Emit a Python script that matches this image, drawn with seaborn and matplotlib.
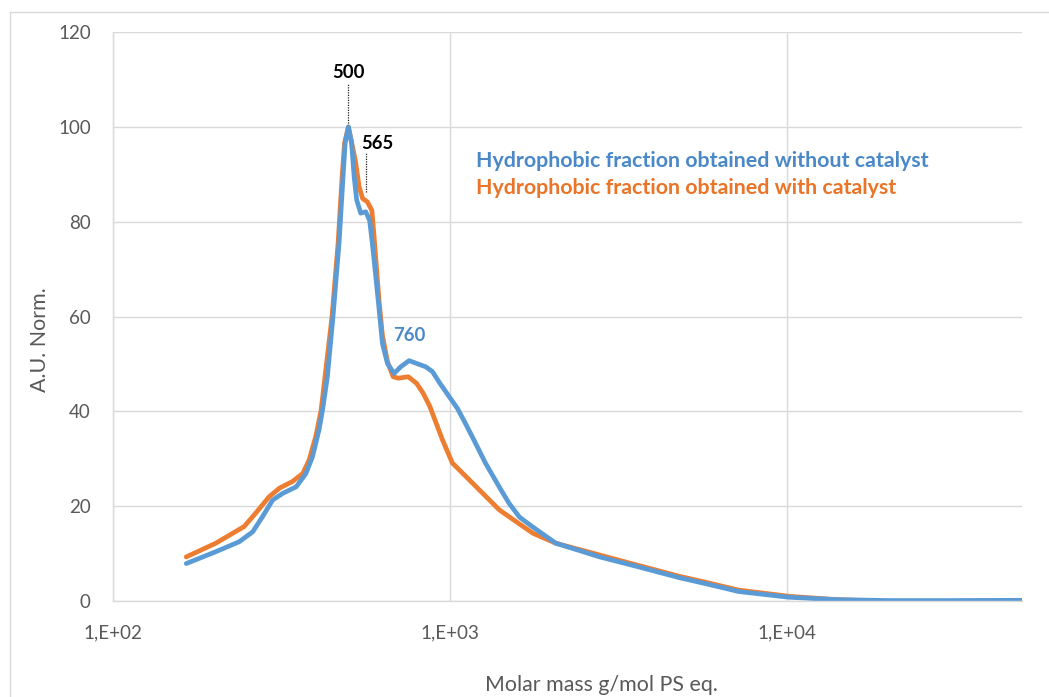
import matplotlib
matplotlib.use("Agg")
import matplotlib.pyplot as plt
from matplotlib.patches import Rectangle
import seaborn as sns
import pandas as pd

# Molar mass (g/mol PS eq.) and normalised detector response for each fraction
mass_without = [165, 202, 237, 260, 278, 298, 319, 350, 374, 391, 409, 419, 433,
                450, 469, 482, 489, 500, 511, 520, 529, 544, 563, 578, 589, 603,
                617, 631, 653, 683, 715, 757, 848, 888, 929, 996, 1054, 1110,
                1167, 1276, 1404, 1500, 1610, 1764, 2063, 2788, 3590, 4818, 5639,
                7210, 10160, 14000, 20000, 30000, 50000]
signal_without = [7.9, 10.4, 12.5, 14.6, 17.8, 21.3, 22.7, 24.1, 26.9, 30.4, 36.1,
                  40.3, 47.3, 60.0, 75.5, 89.5, 96.6, 100.0, 96.6, 89.5, 84.6,
                  81.8, 82.1, 80.3, 75.4, 68.4, 61.4, 54.3, 50.1, 48.0, 49.4,
                  50.7, 49.4, 48.4, 46.2, 43.1, 40.6, 37.6, 34.6, 29.1, 24.0,
                  20.6, 17.7, 15.6, 12.2, 9.3, 7.3, 4.9, 3.8, 2.0, 0.8, 0.3, 0.1,
                  0.1, 0.15]

mass_with = [165, 202, 245, 265, 291, 312, 341, 366, 382, 400, 415, 447, 466, 479,
             487, 500, 524, 538, 551, 569, 587, 596, 617, 631, 653, 679, 703,
             753, 797, 834, 873, 888, 951, 1018, 1167, 1404, 1764, 2063, 2788,
             3590, 4818, 5639, 7210, 10160, 14000, 17000]
signal_with = [9.3, 12.2, 15.7, 18.5, 22.0, 23.8, 25.2, 26.9, 29.7, 34.7, 40.3,
               60.0, 75.5, 89.5, 96.6, 100.0, 93.0, 87.4, 84.9, 84.2, 82.4, 76.8,
               63.0, 56.0, 50.5, 47.3, 47.0, 47.3, 45.9, 43.8, 41.0, 39.6, 34.0,
               29.1, 24.9, 19.2, 14.3, 12.2, 9.7, 7.6, 5.2, 4.1, 2.3, 1.0, 0.3,
               0.1]

series_names = ["Hydrophobic fraction obtained without catalyst",
                "Hydrophobic fraction obtained with catalyst"]
series_colors = ["#5B9BD5", "#ED7D31"]
text_colors = ["#4A88C7", "#EA7428"]

y_ticks = [0, 20, 40, 60, 80, 100, 120]
x_ticks = [1e2, 1e3, 1e4]
x_tick_labels = ["1,E+02", "1,E+03", "1,E+04"]

peak_labels = [500, 565]
shoulder_label = 760

df = pd.concat([
    pd.DataFrame({"mass": mass_without, "signal": signal_without, "series": series_names[0]}),
    pd.DataFrame({"mass": mass_with, "signal": signal_with, "series": series_names[1]}),
])

sns.set_theme(style="white")
plt.rcParams["font.family"] = ["Lato", "DejaVu Sans"]

fig = plt.figure(figsize=(10.49, 6.97), dpi=100)
ax = fig.add_axes([0.1077, 0.1377, 0.8666, 0.8163])

# draw the catalyst series first so the blue trace sits on top
sns.lineplot(data=df, x="mass", y="signal", hue="series",
             hue_order=[series_names[1], series_names[0]],
             palette={series_names[0]: series_colors[0], series_names[1]: series_colors[1]},
             linewidth=3.4, legend=False, sort=False, ax=ax)
for line in ax.get_lines():
    line.set_solid_joinstyle("round")
    line.set_solid_capstyle("round")

ax.set_xscale("log")
ax.set_xlim(1e2, 5e4)
ax.set_ylim(0, 120)
ax.set_xticks(x_ticks)
ax.set_xticklabels(x_tick_labels)
ax.minorticks_off()
ax.set_yticks(y_ticks)

grid_color = "#d9d9d9"
ax.grid(True, which="major", color=grid_color, linewidth=1.0)
ax.set_axisbelow(True)
for side in ["top", "right"]:
    ax.spines[side].set_visible(False)
for side in ["left", "bottom"]:
    ax.spines[side].set_color(grid_color)
    ax.spines[side].set_linewidth(1.0)

label_grey = "#595959"
ax.tick_params(axis="both", length=0, labelsize=13.5, labelcolor=label_grey)
ax.tick_params(axis="y", pad=16)
ax.tick_params(axis="x", pad=17)
ax.set_xlabel("Molar mass g/mol PS eq.", fontsize=15.4, color=label_grey)
ax.xaxis.set_label_coords(0.537, -0.1476)
ax.xaxis.label.set_va("center")
ax.set_ylabel("A.U. Norm.", fontsize=15.4, color=label_grey)
ax.yaxis.set_label_coords(-0.0803, 0.4587)
ax.yaxis.label.set_va("center")

# series names written as coloured text
ax.text(0.3993, 0.7733, series_names[0], transform=ax.transAxes, color=text_colors[0],
        fontsize=15.4, fontweight="bold", va="center", ha="left")
ax.text(0.3993, 0.7259, series_names[1], transform=ax.transAxes, color=text_colors[1],
        fontsize=15.4, fontweight="bold", va="center", ha="left")

# peak annotations with dotted leaders
ax.plot([peak_labels[0], peak_labels[0]], [100.9, 109.2], linestyle=(0, (1, 1)),
        color="#222222", linewidth=0.9)
ax.text(peak_labels[0], 111.45, str(peak_labels[0]), ha="center", va="center",
        fontsize=13.3, fontweight="bold", color="black")
ax.plot([peak_labels[1], peak_labels[1]], [86.3, 94.8], linestyle=(0, (1, 1)),
        color="#222222", linewidth=0.9)
ax.annotate(str(peak_labels[1]), xy=(peak_labels[1], 96.5), xytext=(-3.6, 0),
            textcoords="offset points", ha="left", va="center",
            fontsize=13.3, fontweight="bold", color="black")
ax.text(shoulder_label, 56.1, str(shoulder_label), ha="center", va="center",
        fontsize=13.3, fontweight="bold", color=text_colors[0])

# light frame around the chart area
fig.patches.append(Rectangle((10 / 1049, -0.05), 1.2, 1 - 12 / 697 + 0.05,
                             transform=fig.transFigure, fill=False,
                             edgecolor="#d9d9d9", linewidth=1.0))

fig.savefig("out.png", dpi=100, facecolor="white")
